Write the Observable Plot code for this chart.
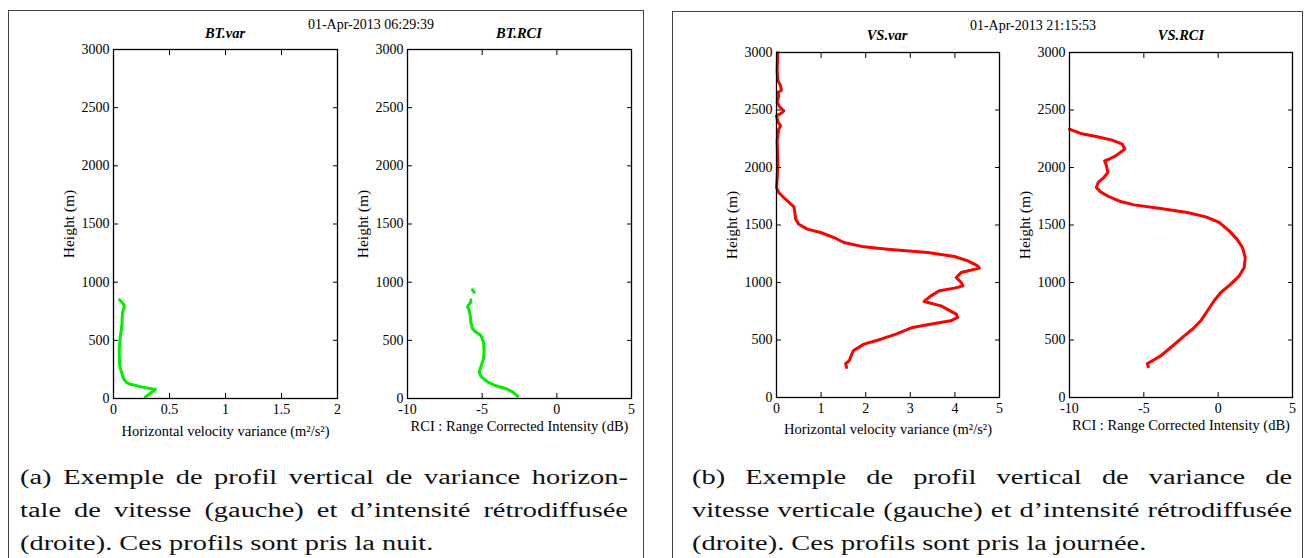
<!DOCTYPE html>
<html><head><meta charset="utf-8">
<script src="https://cdn.jsdelivr.net/npm/d3@7"></script>
<script src="https://cdn.jsdelivr.net/npm/@observablehq/plot@0.6"></script>
<style>
html,body{margin:0;padding:0;background:#fff;}
#root{position:relative;width:1305px;height:558px;overflow:hidden;background:#fff;font-family:"Liberation Serif","Times New Roman",serif;}
.panel{position:absolute;border:1px solid #444;box-sizing:border-box;}
.lbl{position:absolute;transform:translate(-50%,-50%);white-space:nowrap;font-size:14px;line-height:1;color:#000;}
.ttl{font-weight:bold;font-style:italic;font-size:14.5px;}
.cap{position:absolute;font-size:20px;line-height:20px;white-space:nowrap;transform-origin:0 0;color:#111;}
.plot{position:absolute;}
</style></head><body><div id="root"></div>
<script>
// ---- data ----
const heightTicks = [0, 500, 1000, 1500, 2000, 2500, 3000];
const varTicksNight = [0, 0.5, 1, 1.5, 2];
const varTicksDay = [0, 1, 2, 3, 4, 5];
const rciTicks = [-10, -5, 0, 5];

const btVarHeight = [14, 45, 77, 100, 120, 134, 170, 214, 260, 300, 360, 414, 470, 528, 590, 643, 700, 743, 791, 810, 823, 849];
const btVarValue  = [0.284, 0.33, 0.374, 0.25, 0.16, 0.12, 0.09, 0.075, 0.06, 0.054, 0.052, 0.051, 0.055, 0.06, 0.07, 0.075, 0.078, 0.081, 0.096, 0.09, 0.078, 0.054];

const btRciHeight = [20, 57, 86, 109, 143, 191, 229, 271, 343, 414, 486, 543, 571, 600, 657, 714, 757, 791, 809, 829, 849, 880, 914, 934];
const btRciValue  = [-2.63, -2.97, -3.42, -4.08, -4.64, -5.09, -5.2, -5.09, -4.91, -4.87, -4.91, -5.09, -5.42, -5.65, -5.76, -5.8, -5.87, -5.98, -5.87, -5.76, -5.76, NaN, -5.54, -5.65];

const vsVarHeight = [261, 296, 319, 406, 464, 507, 551, 609, 643, 667, 696, 725, 797, 835, 884, 928, 951, 971, 1000, 1043, 1087, 1125, 1145, 1188, 1226, 1261, 1290, 1310, 1348, 1391, 1435, 1464, 1507, 1551, 1609, 1658, 1696, 1739, 1783, 1826, 1900, 2029, 2232, 2333, 2362, 2400, 2449, 2478, 2493, 2528, 2565, 2623, 2652, 2672, 2710, 2759, 2841, 3000];
const vsVarValue  = [1.57, 1.55, 1.63, 1.72, 1.96, 2.34, 2.68, 3.05, 3.54, 3.91, 4.06, 4.03, 3.69, 3.31, 3.46, 3.65, 3.99, 4.18, 4.14, 4.03, 4.14, 4.55, 4.51, 4.29, 3.99, 3.39, 2.49, 1.96, 1.51, 1.29, 0.99, 0.69, 0.5, 0.43, 0.41, 0.39, 0.28, 0.16, 0.05, 0.0, 0.015, 0.03, 0.015, 0.05, 0.09, 0.03, 0.0, 0.13, 0.165, 0.07, 0.015, 0.05, 0.03, 0.11, 0.09, 0.03, 0.015, 0.03];

const vsRciHeight = [267, 296, 319, 362, 435, 522, 594, 667, 754, 841, 913, 986, 1058, 1130, 1217, 1304, 1377, 1449, 1522, 1571, 1609, 1643, 1675, 1704, 1754, 1788, 1826, 1870, 1913, 1957, 2014, 2058, 2072, 2101, 2159, 2203, 2238, 2267, 2296, 2333];
const vsRciValue  = [-4.70, -4.76, -4.43, -3.87, -3.19, -2.40, -1.73, -1.17, -0.72, -0.27, 0.18, 0.85, 1.42, 1.75, 1.82, 1.64, 1.26, 0.74, 0.07, -0.83, -2.07, -3.87, -5.66, -6.56, -7.46, -7.91, -8.20, -8.07, -7.69, -7.42, -7.51, -7.64, -7.35, -6.90, -6.29, -6.45, -7.12, -8.13, -9.26, -10.0];

const dateNight = "01-Apr-2013 06:29:39";
const dateDay = "01-Apr-2013 21:15:53";
const varLabel = "Horizontal velocity variance (m²/s²)";
const rciLabel = "RCI : Range Corrected Intensity (dB)";
const heightLabel = "Height (m)";
const captionA = ["(a) Exemple de profil vertical de variance horizon-", "tale de vitesse (gauche) et d’intensité rétrodiffusée", "(droite). Ces profils sont pris la nuit."];
const captionB = ["(b) Exemple de profil vertical de variance de", "vitesse verticale (gauche) et d’intensité rétrodiffusée", "(droite). Ces profils sont pris la journée."];

// ---- drawing ----
const root = document.getElementById("root");
function add(html, cls, x, y, extra) {
  const d = document.createElement("div");
  d.className = cls; d.textContent = html;
  d.style.left = x + "px"; d.style.top = y + "px";
  if (extra) Object.assign(d.style, extra);
  root.appendChild(d); return d;
}
function box(x, y, w, h) {
  const d = document.createElement("div");
  d.className = "panel";
  Object.assign(d.style, {left: x + "px", top: y + "px", width: w + "px", height: h + "px"});
  root.appendChild(d);
}
box(8, 10, 636, 560);
box(672, 11, 631, 560);

const ml = 60, mr = 6, mt = 6, mb = 46;
function profile({heights, values, color, xDomain, xTicks, xLabel, xLabelDy, fx, fy, fw, fh}) {
  const data = heights.map((h, i) => ({h, v: values[i]}));
  const fmt = d => String(d);
  const svg = Plot.plot({
    width: fw + ml + mr, height: fh + mt + mb,
    marginLeft: ml, marginRight: mr, marginTop: mt, marginBottom: mb,
    x: {domain: xDomain}, y: {domain: [0, 3000]},
    style: {fontFamily: '"Liberation Serif", "Times New Roman", serif', fontSize: "14px", color: "#000", background: "transparent", overflow: "visible"},
    marks: [
      Plot.line(data, {x: "v", y: "h", stroke: color, strokeWidth: 3, strokeLinejoin: "round", strokeLinecap: "round"}),
      Plot.frame({stroke: "#000", strokeWidth: 1.3}),
      Plot.axisX(xTicks, {anchor: "bottom", tickSize: -5, tickPadding: 11, tickFormat: fmt, label: null}),
      Plot.axisX(xTicks, {anchor: "top", tickSize: -5, tickFormat: () => "", label: null}),
      Plot.axisY(heightTicks, {anchor: "left", tickSize: -5, tickPadding: 9, tickFormat: fmt, label: null}),
      Plot.axisY(heightTicks, {anchor: "right", tickSize: -5, tickFormat: () => "", label: null}),
      Plot.text([xLabel], {text: d => d, frameAnchor: "bottom", textAnchor: "middle", dy: xLabelDy, fontSize: 14.5, fill: "#000"}),
      Plot.text([heightLabel], {text: d => d, frameAnchor: "left", textAnchor: "middle", dx: -44, rotate: -90, fontSize: 15.5, fill: "#000"})
    ]
  });
  svg.classList.add("plot");
  svg.style.position = "absolute";
  svg.style.left = (fx - ml) + "px";
  svg.style.top = (fy - mt) + "px";
  root.appendChild(svg);
}

profile({heights: btVarHeight, values: btVarValue, color: "#00ee00", xDomain: [0, 2], xTicks: varTicksNight, xLabel: varLabel, xLabelDy: 37, fx: 113, fy: 49, fw: 224, fh: 349});
profile({heights: btRciHeight, values: btRciValue, color: "#00ee00", xDomain: [-10, 5], xTicks: rciTicks, xLabel: rciLabel, xLabelDy: 32, fx: 407, fy: 49, fw: 224, fh: 349});
profile({heights: vsVarHeight, values: vsVarValue, color: "#ff0000", xDomain: [0, 5], xTicks: varTicksDay, xLabel: varLabel, xLabelDy: 36, fx: 776, fy: 52, fw: 223, fh: 345});
profile({heights: vsRciHeight, values: vsRciValue, color: "#ff0000", xDomain: [-10, 5], xTicks: rciTicks, xLabel: rciLabel, xLabelDy: 32, fx: 1069, fy: 52, fw: 223, fh: 345});

add(dateNight, "lbl", 371, 25);
add("BT.var", "lbl ttl", 225, 33);
add("BT.RCI", "lbl ttl", 519, 33);
add(dateDay, "lbl", 1033, 26);
add("VS.var", "lbl ttl", 887, 35);
add("VS.RCI", "lbl ttl", 1181, 35);

const s = 1.42;
function caption(lines, x0, x1) {
  lines.forEach((t, i) => {
    const last = i === lines.length - 1;
    add(t, "cap", x0, 467 + 33 * i, {
      width: ((x1 - x0) / s) + "px",
      transform: `scaleX(${s})`,
      textAlign: last ? "left" : "justify",
      textAlignLast: last ? "left" : "justify"
    });
  });
}
caption(captionA, 20, 628);
caption(captionB, 692, 1292);
</script>
</body></html>
